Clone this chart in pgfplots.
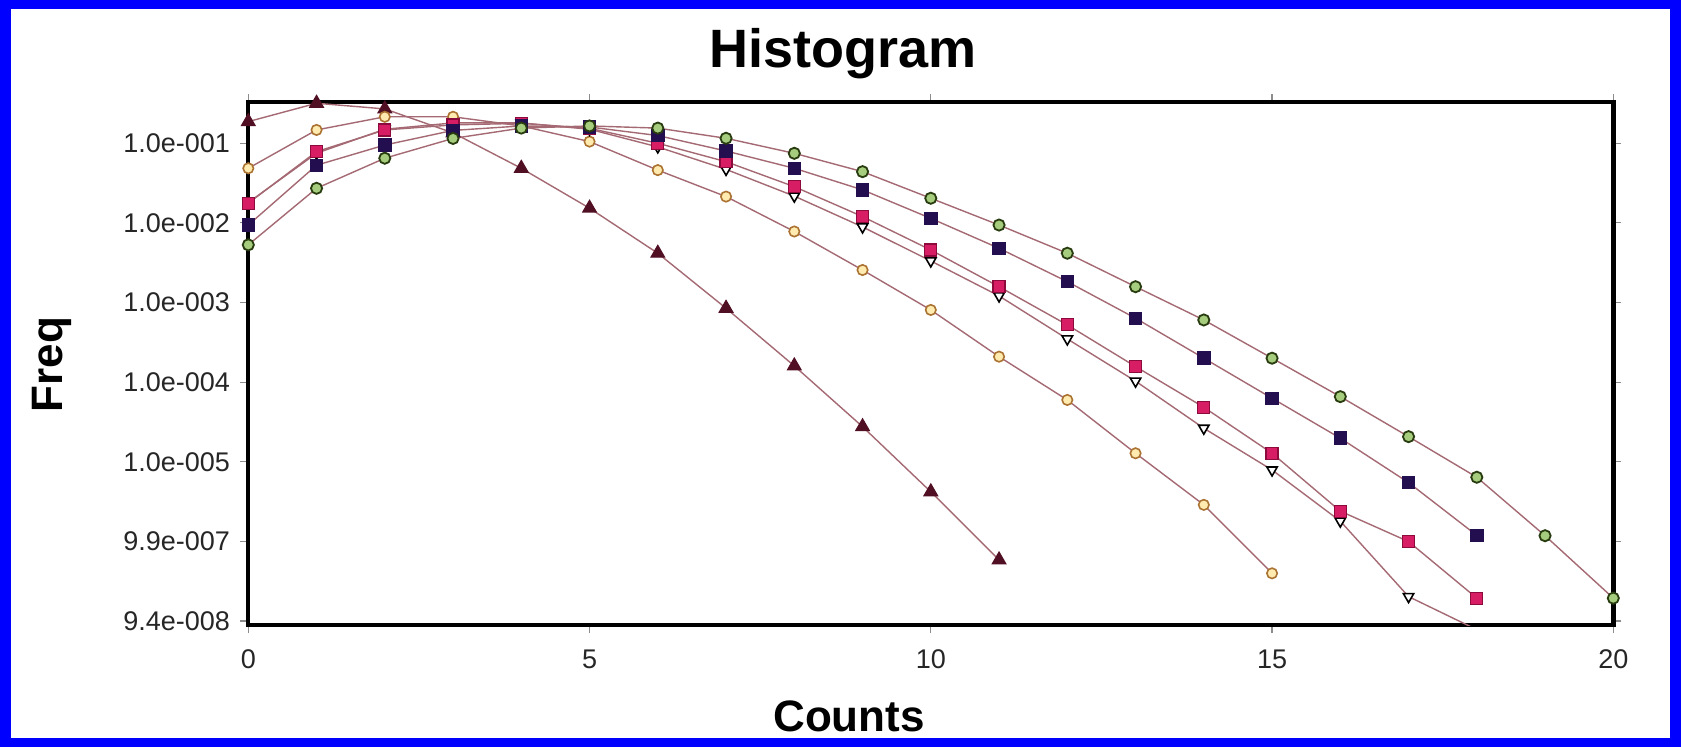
\documentclass[border=0pt]{standalone}
\usepackage{fontspec}
\setmainfont{Liberation Sans}
\usepackage{pgfplots}
\pgfplotsset{compat=1.18}

\definecolor{frameblue}{RGB}{0,0,255}
\definecolor{linec}{RGB}{165,105,115}
\definecolor{cA}{RGB}{80,15,35}
\definecolor{cBd}{RGB}{170,115,50}
\definecolor{cBf}{RGB}{255,235,175}
\definecolor{cC}{RGB}{215,30,100}
\definecolor{cCd}{RGB}{140,10,60}
\definecolor{cE}{RGB}{35,15,80}
\definecolor{cFd}{RGB}{40,60,15}
\definecolor{cFf}{RGB}{165,205,125}

\begin{document}
\begin{tikzpicture}[x=1pt,y=1pt]
\fill[frameblue] (0,0) rectangle (840.5,373.5);
\fill[white] (5.5,4.5) rectangle (835,369);
\begin{axis}[
  at={(124.15pt,60.85pt)}, anchor=south west,
  scale only axis, width=682.5pt, height=261.5pt,
  ymode=log, xmin=0, xmax=20, ymin=8.85e-8, ymax=0.327,
  axis line style={line width=2.2pt, black},
  xtick={0,5,10,15,20}, xticklabels={0,5,10,15,20},
  ytick={1e-1,1e-2,1e-3,1e-4,1e-5,1e-6,1e-7},
  yticklabels={1.0e-001,1.0e-002,1.0e-003,1.0e-004,1.0e-005,9.9e-007,9.4e-008},
  yminorticks=false,
  tick align=outside, major tick length=4pt,
  tick style={black!45, line width=0.6pt},
  ticklabel style={font=\fontsize{13.5}{15}\selectfont, text=black!85, inner sep=0pt},
  yticklabel style={xshift=-5pt},
  xticklabel style={yshift=-8pt},
]
% dark up triangles
\addplot[linec, line width=0.7pt, mark=triangle*, mark size=3.8pt, mark options={fill=cA, draw=cA}] coordinates {
 (0,0.187) (1,0.318) (2,0.27) (3,0.135) (4,0.0485) (5,0.0153) (6,0.00416)
 (7,8.47e-4) (8,1.6e-4) (9,2.76e-5) (10,4.2e-6) (11,5.86e-7)
};
% orange open circles
\addplot[linec, line width=0.7pt, mark=*, mark size=2.6pt, mark options={fill=cBf, draw=cBd, line width=0.8pt}] coordinates {
 (0,0.0485) (1,0.147) (2,0.215) (3,0.215) (4,0.165) (5,0.105) (6,0.046)
 (7,0.0214) (8,0.0078) (9,0.00256) (10,8.07e-4) (11,2.09e-4) (12,5.98e-5)
 (13,1.28e-5) (14,2.88e-6) (15,3.98e-7)
};
% open down triangles
\addplot[linec, line width=0.7pt, mark=triangle*, mark size=3pt, mark options={fill=white, draw=black, rotate=180, line width=0.8pt}] coordinates {
 (0,0.018) (1,0.075) (2,0.15) (3,0.18) (4,0.18) (5,0.15) (6,0.09) (7,0.047)
 (8,0.0217) (9,0.0089) (10,0.00333) (11,0.00121) (12,3.49e-4) (13,1.03e-4)
 (14,2.64e-5) (15,7.9e-6) (16,1.8e-6) (17,2.03e-7)
};
\addplot[linec, line width=0.7pt, no marks] coordinates {(17,2.03e-7) (18,7.8e-8)};
% pink squares
\addplot[linec, line width=0.7pt, mark=square*, mark size=3pt, mark options={fill=cC, draw=cCd, line width=0.6pt}] coordinates {
 (0,0.0177) (1,0.0785) (2,0.147) (3,0.17) (4,0.178) (5,0.154) (6,0.1)
 (7,0.0587) (8,0.0285) (9,0.012) (10,0.00457) (11,0.00158) (12,5.24e-4)
 (13,1.57e-4) (14,4.84e-5) (15,1.28e-5) (16,2.4e-6) (17,9.96e-7) (18,1.94e-7)
};
% navy squares
\addplot[linec, line width=0.7pt, mark=square*, mark size=3pt, mark options={fill=cE, draw=cE}] coordinates {
 (0,0.0094) (1,0.053) (2,0.095) (3,0.145) (4,0.165) (5,0.16) (6,0.125)
 (7,0.08) (8,0.0485) (9,0.026) (10,0.0114) (11,0.0048) (12,0.00183)
 (13,6.35e-4) (14,2.0e-4) (15,6.28e-5) (16,1.98e-5) (17,5.48e-6) (18,1.19e-6)
};
% green circles
\addplot[linec, line width=0.7pt, mark=*, mark size=2.8pt, mark options={fill=cFf, draw=cFd, line width=0.9pt}] coordinates {
 (0,0.0053) (1,0.0272) (2,0.0649) (3,0.115) (4,0.155) (5,0.165) (6,0.155)
 (7,0.1155) (8,0.0748) (9,0.044) (10,0.0204) (11,0.0094) (12,0.00416)
 (13,0.00158) (14,6.04e-4) (15,2.0e-4) (16,6.58e-5) (17,2.07e-5) (18,6.4e-6)
 (19,1.18e-6) (20,1.94e-7)
};
\end{axis}
\node[anchor=base, font=\fontsize{27}{30}\selectfont\bfseries] at (421.3,339.75) {Histogram};
\node[anchor=base, font=\fontsize{22}{26}\selectfont\bfseries] at (424.5,7.5) {Counts};
\node[anchor=base, rotate=90, font=\fontsize{22}{26}\selectfont\bfseries] at (31,191.25) {Freq};
\end{tikzpicture}
\end{document}
